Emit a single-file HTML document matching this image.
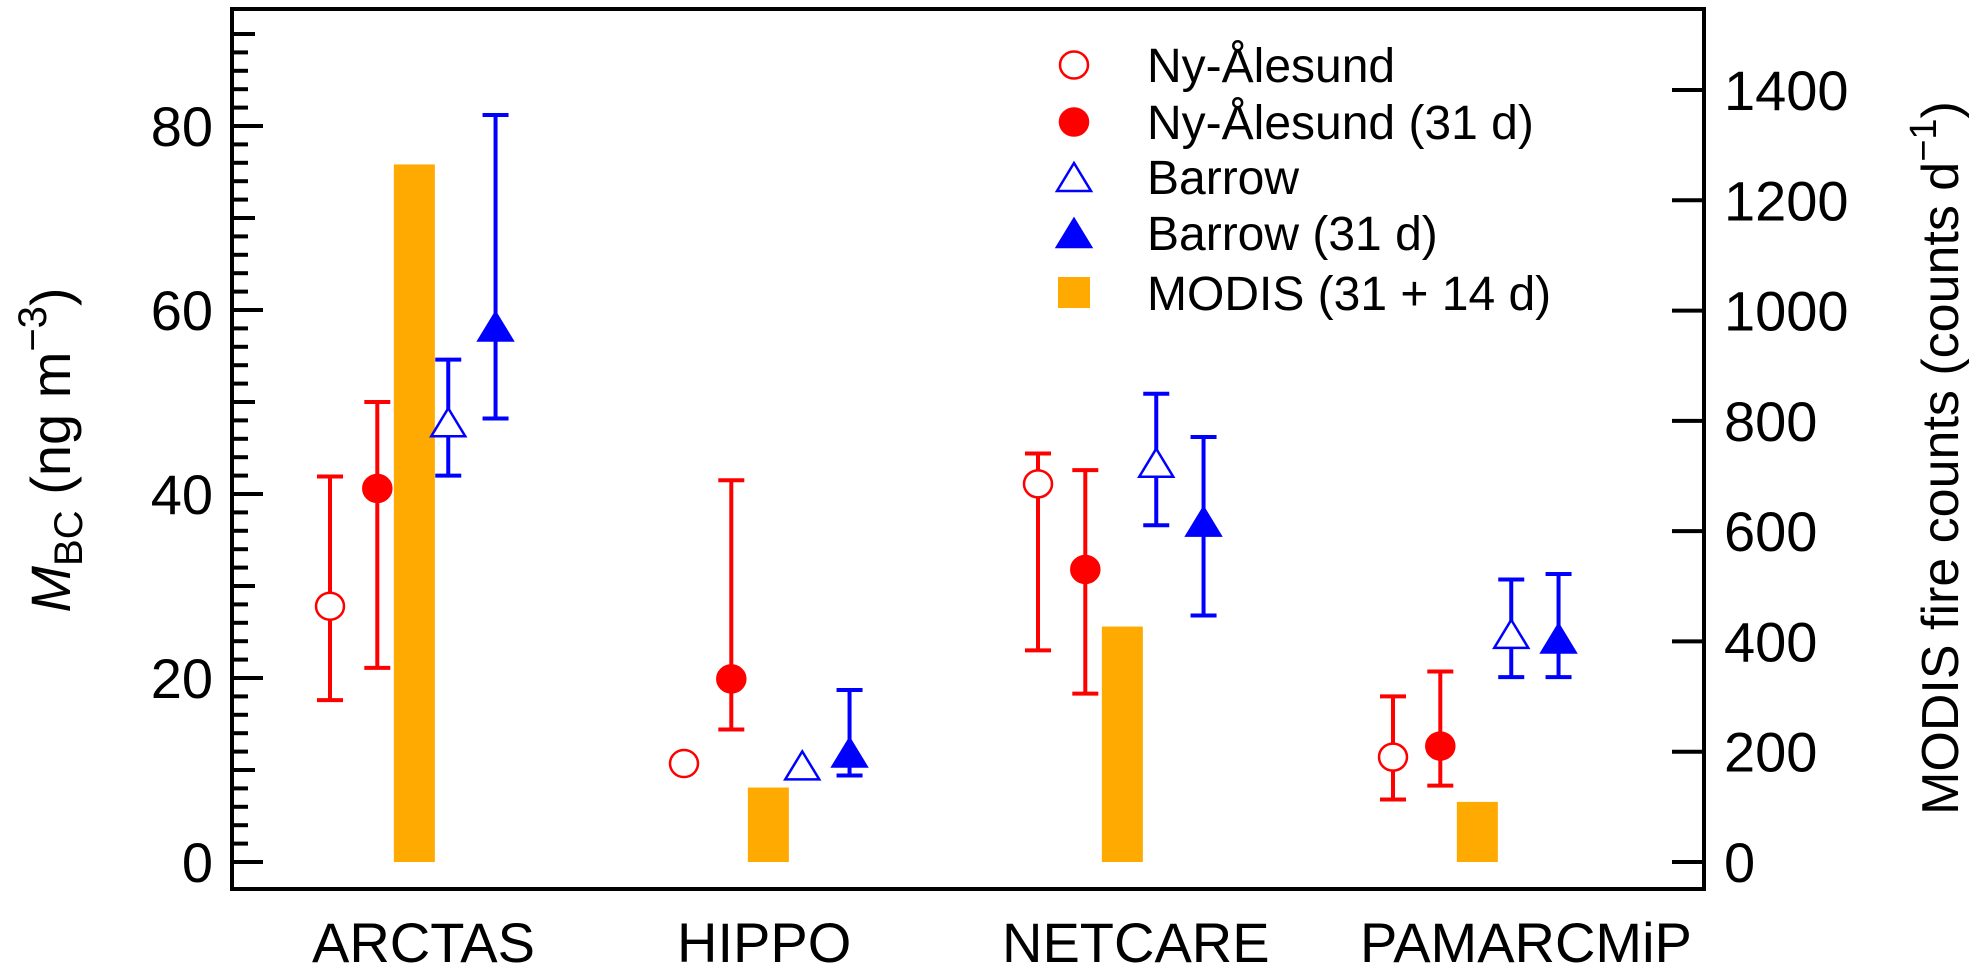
<!DOCTYPE html>
<html><head><meta charset="utf-8"><style>
html,body{margin:0;padding:0;background:#fff;}
svg{display:block;font-family:"Liberation Sans",Arial,sans-serif;}
</style></head><body>
<svg id="chart" width="1976" height="968" viewBox="0 0 1976 968" xmlns="http://www.w3.org/2000/svg">
<g id="axes"></g>
<g id="marks"></g>
<g id="legend"></g>
</svg>
<script>
const categories = ["ARCTAS","HIPPO","NETCARE","PAMARCMiP"];
const nyOpen = [27.8, 10.7, 41.1, 11.4];
const nyOpenLo = [17.6, null, 23.0, 6.8];
const nyOpenHi = [41.9, null, 44.4, 18.0];
const ny31 = [40.6, 19.9, 31.8, 12.6];
const ny31Lo = [21.1, 14.4, 18.3, 8.3];
const ny31Hi = [50.0, 41.5, 42.6, 20.7];
const brOpen = [47.8, 10.5, 43.4, 24.8];
const brOpenLo = [42.0, null, 36.6, 20.1];
const brOpenHi = [54.6, null, 50.9, 30.7];
const br31 = [58.2, 11.9, 37.0, 24.3];
const br31Lo = [48.2, 9.4, 26.8, 20.1];
const br31Hi = [81.2, 18.7, 46.2, 31.3];
const modis = [1265, 135, 427, 109];
const leftTicks = [0,20,40,60,80];
const rightTicks = [0,200,400,600,800,1000,1200,1400];

const NS="http://www.w3.org/2000/svg";
const X0=232,X1=1704,Y0=9,Y1=889;
const yL=v=>862-v*9.2;
const yR=v=>862-v*(772/1400);
// group positions: category index -> base x (series offsets below)
const groupStart=[330,684,1038,1393];
const xCat=(i,k)=>groupStart[i]+k*47.3;
function el(tag,attrs,parent){const e=document.createElementNS(NS,tag);for(const k in attrs)e.setAttribute(k,attrs[k]);parent.appendChild(e);return e;}
const axes=document.getElementById('axes'),marks=document.getElementById('marks'),legend=document.getElementById('legend');

// frame
const fr=el('rect',{x:X0,y:Y0,width:X1-X0,height:Y1-Y0,fill:'none',stroke:'#000','stroke-width':4},axes);


// left ticks
for(let v=0;v<=90;v+=2){
  const len=v%20===0?31:(v%10===0?23:16);
  const t=el('line',{x1:X0,x2:X0+len,y1:yL(v),y2:yL(v),stroke:'#000','stroke-width':4},axes);
  
  
}
leftTicks.forEach(v=>{
  const t=el('text',{x:213,y:yL(v)+20,'text-anchor':'end','font-size':56},axes);
  t.textContent=v;
  
  
});
rightTicks.forEach(v=>{
  const l=el('line',{x1:X1-32,x2:X1,y1:yR(v),y2:yR(v),stroke:'#000','stroke-width':4},axes);
  
  
  const t=el('text',{x:1724,y:yR(v)+20,'font-size':56},axes);
  t.textContent=v;
  
  
});
const catX=[312,677,1002,1360];
categories.forEach((c,i)=>{
  const t=el('text',{x:catX[i],y:962,'font-size':56},axes);
  t.textContent=c;
  
  
});
// axis titles
const yt=el('text',{transform:'translate(70,450) rotate(-90)','text-anchor':'middle','font-size':56},axes);
yt.innerHTML='<tspan font-style="italic">M</tspan><tspan font-size="40" dy="12">BC</tspan><tspan dy="-12"> (ng m</tspan><tspan font-size="40" dy="-24">−3</tspan><tspan dy="24">)</tspan>';


const rt=el('text',{transform:'translate(1958,458) rotate(-90)','text-anchor':'middle','font-size':52},axes);
rt.innerHTML='MODIS fire counts (counts d<tspan font-size="38" dy="-22">−1</tspan><tspan dy="22">)</tspan>';



const RED='#ff0000',BLUE='#0000ff',ORANGE='#ffaa00';
function errbar(x,lo,hi,color){
  if(lo==null)return;
  const g=el('g',{stroke:color,'stroke-width':4},marks);
  
  
  el('line',{x1:x,x2:x,y1:yL(lo),y2:yL(hi)},g);
  el('line',{x1:x-13,x2:x+13,y1:yL(lo),y2:yL(lo)},g);
  el('line',{x1:x-13,x2:x+13,y1:yL(hi),y2:yL(hi)},g);
}
function circle(x,y,filled,color,parent){
  return el('ellipse',{cx:x,cy:y,rx:14,ry:13.5,fill:filled?color:'#fff',stroke:color,'stroke-width':2.5},parent);
}
function tri(x,y,filled,color,parent){
  return el('polygon',{points:`${x},${y-14} ${x+17},${y+14} ${x-17},${y+14}`,fill:filled?color:'#fff',stroke:color,'stroke-width':2.5,'stroke-linejoin':'miter'},parent);
}
categories.forEach((c,i)=>{
  // MODIS bar
  const bx=xCat(i,1.35);
  const b=el('rect',{x:bx,y:yR(modis[i]),width:41,height:yR(0)-yR(modis[i]),fill:ORANGE},marks);
  
  
  errbar(xCat(i,0),nyOpenLo[i],nyOpenHi[i],RED);
  errbar(xCat(i,1),ny31Lo[i],ny31Hi[i],RED);
  errbar(xCat(i,2.5),brOpenLo[i],brOpenHi[i],BLUE);
  errbar(xCat(i,3.5),br31Lo[i],br31Hi[i],BLUE);
  const m1=circle(xCat(i,0),yL(nyOpen[i]),false,RED,marks);
  
  
  const m2=circle(xCat(i,1),yL(ny31[i]),true,RED,marks);
  
  
  const m3=tri(xCat(i,2.5),yL(brOpen[i]),false,BLUE,marks);
  
  
  const m4=tri(xCat(i,3.5),yL(br31[i]),true,BLUE,marks);
  
  
});

// legend
const legItems=["Ny-Ålesund","Ny-Ålesund (31 d)","Barrow","Barrow (31 d)","MODIS (31 + 14 d)"];
const legY=[65,122,177,233,293];
legItems.forEach((s,i)=>{
  const g=el('g',{},legend);
  
  
  const x=1074,y=legY[i];
  if(i===0)circle(x,y,false,RED,g);
  if(i===1)circle(x,y,true,RED,g);
  if(i===2)tri(x,y,false,BLUE,g);
  if(i===3)tri(x,y,true,BLUE,g);
  if(i===4)el('rect',{x:x-16,y:y-16,width:32,height:31,fill:ORANGE},g);
  const t=el('text',{x:1147,y:y+17,'font-size':48},g);
  t.textContent=s;
});
</script>
</body></html>
